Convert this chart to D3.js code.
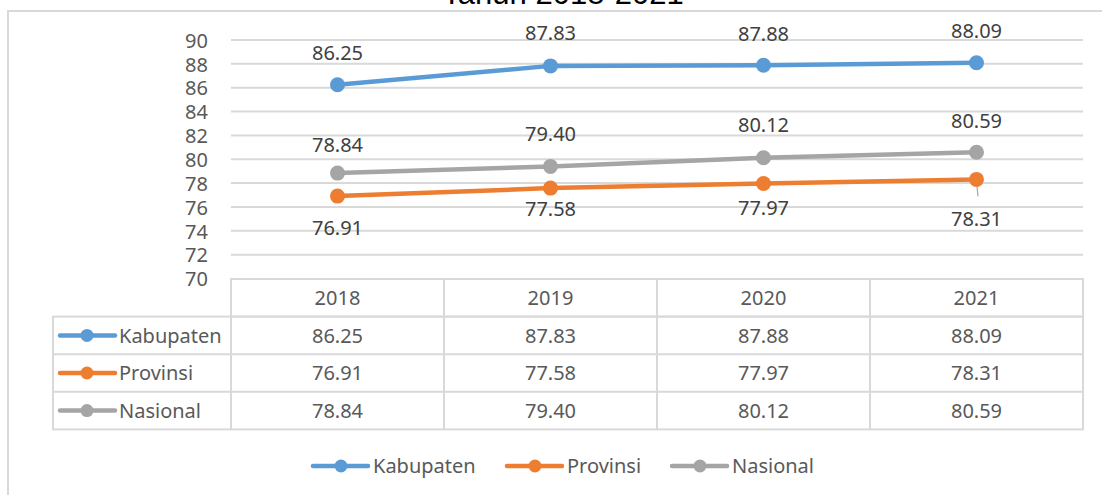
<!DOCTYPE html>
<html>
<head>
<meta charset="utf-8">
<script src="https://cdn.jsdelivr.net/npm/d3@7/dist/d3.min.js"></script>
<style>
  html, body { margin: 0; padding: 0; background: #fff; }
  svg { display: block; }
</style>
</head>
<body>
<svg id="chart" width="1102" height="495"></svg>
<script>
// ---- data ----
const years = ["2018", "2019", "2020", "2021"];
const seriesNames = ["Kabupaten", "Provinsi", "Nasional"];
const kabupaten = [86.25, 87.83, 87.88, 88.09];
const provinsi = [76.91, 77.58, 77.97, 78.31];
const nasional = [78.84, 79.40, 80.12, 80.59];
const yTicks = [70, 72, 74, 76, 78, 80, 82, 84, 86, 88, 90];
const titleText = "Tahun  2018-2021";

// ---- styles / layout ----
const colors = ["#5B9BD5", "#ED7D31", "#A5A5A5"];
const textColor = "#595959";
const gridColor = "#D9D9D9";
const font = "'Noto Sans', 'Open Sans', sans-serif";
const labelOffsets = [
  [-32, -33, -31, -32],
  [32, 21, 24, 39],
  [-28, -33, -33, -31]
];

const series = [kabupaten, provinsi, nasional].map((vals, i) => ({ name: seriesNames[i], values: vals, color: colors[i] }));

const svg = d3.select("#chart");

// outer chart border
svg.append("rect").attr("x", 8).attr("y", 11).attr("width", 1300).attr("height", 700)
  .attr("fill", "none").attr("stroke", gridColor).attr("stroke-width", 2);

// title (partially cut off at top)
svg.append("text").attr("x", 563).attr("y", 4).attr("text-anchor", "middle")
  .attr("font-family", "'Liberation Sans', Arial, sans-serif").attr("font-size", 31)
  .attr("fill", "#000").text(titleText);

const x = d3.scaleBand().domain(years).range([231, 1083]);
const y = d3.scaleLinear().domain([70, 90]).range([278.5, 40]);

// gridlines
svg.append("g").selectAll("line").data(yTicks.filter(t => t > 70)).join("line")
  .attr("x1", 231).attr("x2", 1083)
  .attr("y1", d => y(d)).attr("y2", d => y(d))
  .attr("stroke", gridColor).attr("stroke-width", 2);

// y axis
const yAxis = d3.axisLeft(y).tickValues(yTicks).tickSize(0).tickPadding(0).tickFormat(d3.format("d"));
const yg = svg.append("g").attr("transform", "translate(208,0)").call(yAxis);
yg.select(".domain").remove();
yg.selectAll("text").attr("font-family", font).attr("font-size", 20).attr("fill", textColor).attr("dy", "0.36em");

// data table
const rowTop = 279, rowH = 37.6, labelColX = 53;
const tbl = svg.append("g");
// header row border
tbl.append("rect").attr("x", 231).attr("y", rowTop).attr("width", 852).attr("height", rowH)
  .attr("fill", "none").attr("stroke", gridColor).attr("stroke-width", 2);
tbl.append("rect").attr("x", labelColX).attr("y", rowTop + rowH).attr("width", 1083 - labelColX).attr("height", rowH * 3)
  .attr("fill", "none").attr("stroke", gridColor).attr("stroke-width", 2);
// horizontal row lines
tbl.selectAll("line.h").data([2, 3]).join("line").attr("class", "h")
  .attr("x1", labelColX).attr("x2", 1083)
  .attr("y1", d => rowTop + rowH * d).attr("y2", d => rowTop + rowH * d)
  .attr("stroke", gridColor).attr("stroke-width", 2);
// vertical lines
tbl.selectAll("line.v").data(years).join("line").attr("class", "v")
  .attr("x1", d => x(d)).attr("x2", d => x(d))
  .attr("y1", rowTop).attr("y2", rowTop + rowH * 4)
  .attr("stroke", gridColor).attr("stroke-width", 2);
// header text
tbl.selectAll("text.yr").data(years).join("text").attr("class", "yr")
  .attr("x", d => x(d) + x.bandwidth() / 2).attr("y", rowTop + rowH / 2)
  .attr("dy", "0.36em").attr("text-anchor", "middle")
  .attr("font-family", font).attr("font-size", 20).attr("fill", textColor).text(d => d);
// rows
series.forEach((s, i) => {
  const cy = rowTop + rowH * (i + 1) + rowH / 2;
  tbl.append("line").attr("x1", 60).attr("x2", 115).attr("y1", cy).attr("y2", cy)
    .attr("stroke", s.color).attr("stroke-width", 4.5).attr("stroke-linecap", "round");
  tbl.append("circle").attr("cx", 87).attr("cy", cy).attr("r", 6.5).attr("fill", s.color);
  tbl.append("text").attr("x", 119).attr("y", cy).attr("dy", "0.36em")
    .attr("font-family", font).attr("font-size", 20).attr("fill", textColor).text(s.name);
  tbl.selectAll(null).data(s.values).join("text")
    .attr("x", (d, j) => x(years[j]) + x.bandwidth() / 2).attr("y", cy).attr("dy", "0.36em")
    .attr("text-anchor", "middle").attr("font-family", font).attr("font-size", 20).attr("fill", textColor)
    .text(d => d.toFixed(2));
});

// lines & markers
const cx = (j) => x(years[j]) + x.bandwidth() / 2;
const line = d3.line().x((d, j) => cx(j)).y(d => y(d));
// leader line for Provinsi 2021 label
svg.append("line").attr("x1", cx(3)).attr("y1", y(provinsi[3]) + 2).attr("x2", cx(3) + 1.5).attr("y2", y(provinsi[3]) + 17)
  .attr("stroke", "#A6A6A6").attr("stroke-width", 1.2);
series.slice().reverse().forEach(s => {
  svg.append("path").datum(s.values).attr("d", line).attr("fill", "none")
    .attr("stroke", s.color).attr("stroke-width", 4.5).attr("stroke-linecap", "round");
  svg.selectAll(null).data(s.values).join("circle")
    .attr("cx", (d, j) => cx(j)).attr("cy", d => y(d)).attr("r", 7.5).attr("fill", s.color);
});
// data labels
series.forEach((s, i) => {
  svg.selectAll(null).data(s.values).join("text")
    .attr("x", (d, j) => cx(j)).attr("y", (d, j) => y(d) + labelOffsets[i][j]).attr("dy", "0.36em")
    .attr("text-anchor", "middle").attr("font-family", font).attr("font-size", 20).attr("fill", "#404040")
    .text(d => d.toFixed(2));
});

// legend
const legendItems = [{ x: 313 }, { x: 507 }, { x: 672 }];
const ly = 466;
series.forEach((s, i) => {
  const lx = legendItems[i].x;
  svg.append("line").attr("x1", lx).attr("x2", lx + 55).attr("y1", ly).attr("y2", ly)
    .attr("stroke", s.color).attr("stroke-width", 4.5).attr("stroke-linecap", "round");
  svg.append("circle").attr("cx", lx + 28).attr("cy", ly).attr("r", 6.5).attr("fill", s.color);
  svg.append("text").attr("x", lx + 60).attr("y", ly).attr("dy", "0.36em")
    .attr("font-family", font).attr("font-size", 20).attr("fill", textColor).text(s.name);
});
</script>
</body>
</html>
